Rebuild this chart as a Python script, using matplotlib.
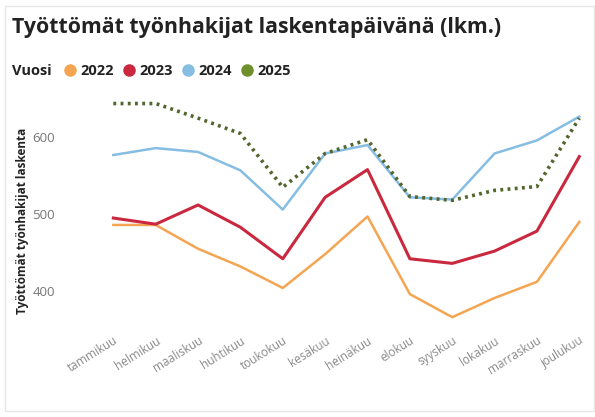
import numpy as np
import matplotlib.pyplot as plt
from matplotlib.lines import Line2D
from matplotlib.patches import Rectangle

plt.rcParams['font.family'] = ['Open Sans', 'DejaVu Sans']

months = ["tammikuu", "helmikuu", "maaliskuu", "huhtikuu", "toukokuu", "kesäkuu",
          "heinäkuu", "elokuu", "syyskuu", "lokakuu", "marraskuu", "joulukuu"]
v2022 = [486, 486, 455, 432, 404, 448, 497, 396, 366, 391, 412, 490]
v2023 = [495, 487, 512, 483, 442, 522, 558, 442, 436, 452, 478, 575]
v2024 = [577, 586, 581, 557, 506, 579, 590, 522, 519, 579, 596, 627]
v2025 = [644, 644, 625, 605, 535, 579, 597, 523, 518, 531, 536, 625]
years = ["2022", "2023", "2024", "2025"]
colors = ["#f5a552", "#c9283e", "#86bde3", "#6f8f2a"]

fig = plt.figure(figsize=(5.95, 4.17), dpi=100)
ax = fig.add_axes([0.162, 0.232, 0.833, 0.54])

x = np.arange(len(months))
ax.plot(x, v2022, color=colors[0], lw=1.8)
ax.plot(x, v2023, color=colors[1], lw=2.2)
ax.plot(x, v2024, color=colors[2], lw=1.8)
ax.plot(x, v2025, color="#55652e", lw=2.6, linestyle=(0, (0.8, 1.2)))

ax.set_xlim(-0.4, 11.3)
ax.set_ylim(362, 655)
ax.set_yticks([400, 500, 600])
ax.set_xticks(x)
ax.set_xticklabels(months, rotation=32, ha="right", rotation_mode="anchor",
                   fontsize=8.5, color="#8a8a8a")
ax.tick_params(axis="y", labelsize=9.5, colors="#777777", length=0, pad=30)
ax.tick_params(axis="x", length=0, pad=10)
for s in ax.spines.values():
    s.set_visible(False)
ax.set_ylabel("Työttömät työnhakijat laskenta", fontsize=8.5, color="#222222",
              fontweight="bold")
ax.yaxis.set_label_coords(-0.135, 0.44)

fig.text(0.02, 0.935, "Työttömät työnhakijat laskentapäivänä (lkm.)",
         fontsize=15.3, fontweight="bold", color="#222222", va="center")
fig.text(0.02, 0.83, "Vuosi", fontsize=10.5, fontweight="bold", color="#222222",
         va="center")
handles = [Line2D([], [], marker="o", linestyle="none", color=c, markersize=8)
           for c in colors]
fig.legend(handles, years, loc="center left", bbox_to_anchor=(0.095, 0.83),
           ncol=4, frameon=False, handlelength=1.0, handletextpad=0.25,
           columnspacing=0.5, borderaxespad=0,
           prop={"weight": "bold", "size": 10.5}, labelcolor="#222222")

fig.patches.append(Rectangle((0.008, 0.015), 0.99, 0.97, transform=fig.transFigure,
                             fill=False, edgecolor="#e6e6e6", lw=1))

fig.savefig("out.png", dpi=100)
